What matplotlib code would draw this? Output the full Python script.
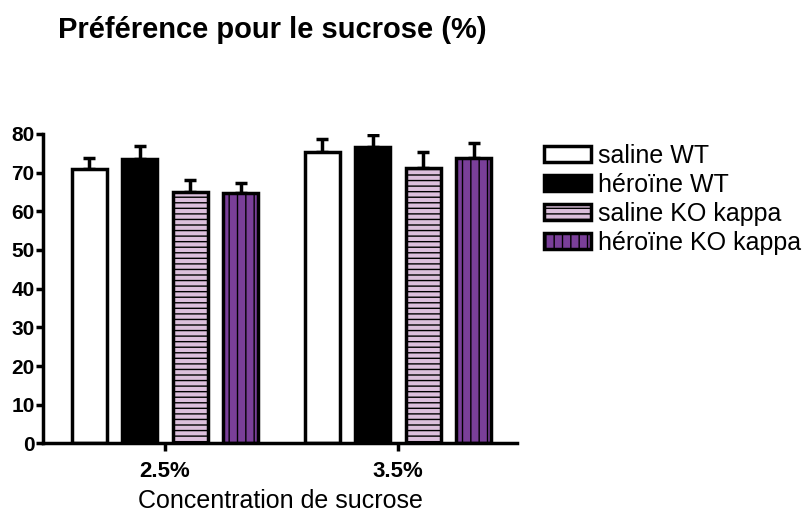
import matplotlib.pyplot as plt
import numpy as np

plt.rcParams['font.family'] = ['Liberation Sans', 'DejaVu Sans']
plt.rcParams['hatch.linewidth'] = 1.0

concentrations = ['2.5%', '3.5%']
groups = ['saline WT', 'héroïne WT', 'saline KO kappa', 'héroïne KO kappa']
means = {
    'saline WT':        [70.8, 75.4],
    'héroïne WT':       [73.4, 76.5],
    'saline KO kappa':  [64.9, 71.3],
    'héroïne KO kappa': [64.6, 73.8],
}
sem = {
    'saline WT':        [3.0, 3.2],
    'héroïne WT':       [3.4, 3.2],
    'saline KO kappa':  [3.1, 3.9],
    'héroïne KO kappa': [2.6, 3.9],
}
colors = ['white', 'black', '#dcbfdc', '#7a3f99']
hatches = [None, None, '---', '||']

fig = plt.figure(figsize=(8.08, 5.15), dpi=100)
ax = fig.add_axes([0.0532, 0.139, 0.587, 0.601])

x = np.arange(len(concentrations))
width = 0.15
step = 0.2165
for i, g in enumerate(groups):
    pos = x + (i - 1.5) * step
    ax.bar(pos, means[g], width, color=colors[i], edgecolor='black',
           linewidth=2.5, hatch=hatches[i], label=g, zorder=2)
    # one-sided (upper) SEM bars
    ax.errorbar(pos, means[g], yerr=[np.zeros(len(x)), sem[g]], fmt='none',
                ecolor='black', elinewidth=2.5, capsize=4.5, capthick=2.5,
                zorder=1)

ax.set_xlim(-0.524, 1.511)
ax.set_ylim(0, 80)
ax.set_yticks(np.arange(0, 81, 10))
ax.set_xticks(x)
ax.set_xticklabels(concentrations, fontweight='bold', fontsize=16)
for lab in ax.get_yticklabels():
    lab.set_fontweight('bold')
    lab.set_fontsize(15)
ax.tick_params(axis='y', width=2.5, length=5, pad=1)
ax.tick_params(axis='x', width=2.5, length=6, pad=7)
for side in ['top', 'right']:
    ax.spines[side].set_visible(False)
for side in ['left', 'bottom']:
    ax.spines[side].set_linewidth(2.5)

ax.set_xlabel('Concentration de sucrose', fontsize=18, labelpad=5)
fig.text(0.072, 0.942, 'Préférence pour le sucrose (%)', fontsize=21,
         fontweight='bold', va='center', ha='left')

fig.legend(loc='upper left', bbox_to_anchor=(0.673, 0.72), frameon=False,
           fontsize=18, handlelength=1.9, handleheight=0.6,
           handletextpad=0.25, labelspacing=0.2, borderaxespad=0,
           borderpad=0)

fig.savefig('out.png', dpi=100)
